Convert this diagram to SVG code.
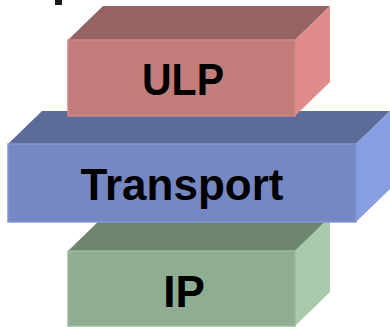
<svg xmlns="http://www.w3.org/2000/svg" width="390" height="327" viewBox="0 0 390 327">
<style>
.lbl{font-family:"Liberation Sans",Arial,sans-serif;font-weight:bold;font-size:44px;fill:#000;text-anchor:middle}
.front{stroke-width:1.5}
</style>
<rect width="390" height="327" fill="#fff"/>
<rect x="55" y="0" width="7" height="5" fill="#1a1a1a"/>
<g id="ip">
<polygon points="68,251 103,217 330,217 295,251" fill="#6E8570"/>
<polygon points="295,251 330,217 330,292 295,326" fill="#A8C9AA"/>
<rect class="front" x="68" y="251" width="227" height="75" fill="#8FAE91" stroke="#9CBB9E"/>
<text class="lbl" x="184" y="307">IP</text>
</g>
<g id="transport">
<polygon points="8,144 42,111 390,111 356,144" fill="#5C6B98"/>
<polygon points="356,144 390,111 390,189 356,222" fill="#879EE0"/>
<rect class="front" x="8" y="144" width="348" height="78" fill="#7688C4" stroke="#8296D2"/>
<text class="lbl" x="182" y="200">Transport</text>
</g>
<g id="ulp">
<polygon points="68,40 103,6 330,6 295,40" fill="#956362"/>
<polygon points="295,40 330,6 330,82 295,116" fill="#E08C8B"/>
<rect class="front" x="68" y="40" width="227" height="76" fill="#C27C7A" stroke="#D08886"/>
<text class="lbl" x="183" y="95" textLength="82" lengthAdjust="spacingAndGlyphs">ULP</text>
</g>
<g id="connectors"></g>
</svg>
